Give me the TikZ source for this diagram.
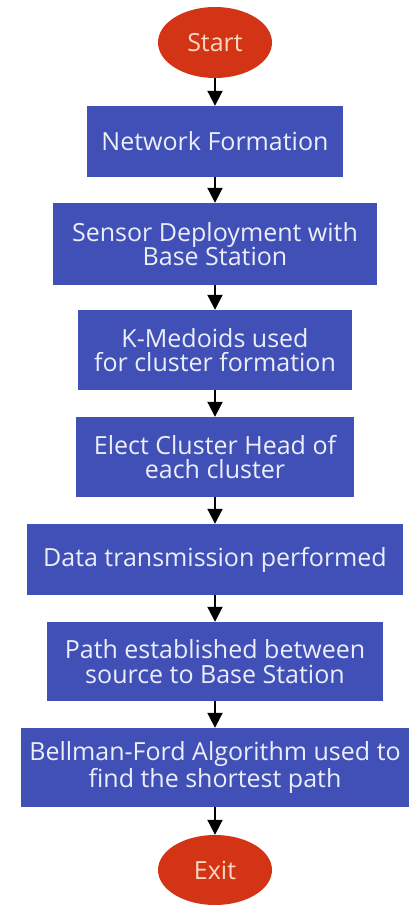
\documentclass[tikz,border=0pt]{standalone}
\usepackage{fontspec}
\setmainfont{Open Sans}
\usetikzlibrary{shapes.geometric,arrows.meta}
\definecolor{boxblue}{RGB}{64,80,182}
\definecolor{ovalred}{RGB}{212,52,22}
\definecolor{boxtext}{RGB}{236,238,250}
\definecolor{ovaltext}{RGB}{250,215,195}
\tikzset{
  stepbox/.style={rectangle, fill=boxblue, draw=none, text=boxtext, align=center,
    inner sep=0pt, font=\fontsize{25}{24.5}\selectfont},
  term/.style={ellipse, fill=ovalred, draw=none, text=ovaltext, inner sep=0pt,
    minimum width=114pt, minimum height=71pt, font=\fontsize{25}{24.5}\selectfont},
  flow/.style={-{Triangle[width=15pt,length=15pt]}, line width=2pt, black},
}
\begin{document}
\begin{tikzpicture}[x=1pt,y=-1pt]
\useasboundingbox[fill=white] (0,0) rectangle (412,905);
\node[term] (start) at (215,42.5) {Start};
\node[stepbox, minimum width=256pt, minimum height=71pt] (n1) at (215,141.5) {Network Formation};
\node[stepbox, minimum width=324pt, minimum height=82pt] (n2) at (215,244) {Sensor Deployment with\\Base Station};
\node[stepbox, minimum width=274pt, minimum height=80pt] (n3) at (215,350) {K-Medoids used\\for cluster formation};
\node[stepbox, minimum width=278pt, minimum height=80pt] (n4) at (215,457) {Elect Cluster Head of\\each cluster};
\node[stepbox, minimum width=376pt, minimum height=71pt] (n5) at (215,559.5) {Data transmission performed};
\node[stepbox, minimum width=336pt, minimum height=79pt] (n6) at (215,661.5) {Path established between\\source to Base Station};
\node[stepbox, minimum width=388pt, minimum height=79pt] (n7) at (215,767.5) {Bellman-Ford Algorithm used to\\find the shortest path};
\node[term, minimum height=70pt] (exit) at (215,870) {Exit};
\draw[flow] (start) -- (n1);
\draw[flow] (n1) -- (n2);
\draw[flow] (n2) -- (n3);
\draw[flow] (n3) -- (n4);
\draw[flow] (n4) -- (n5);
\draw[flow] (n5) -- (n6);
\draw[flow] (n6) -- (n7);
\draw[flow] (n7) -- (exit);
\end{tikzpicture}
\end{document}
